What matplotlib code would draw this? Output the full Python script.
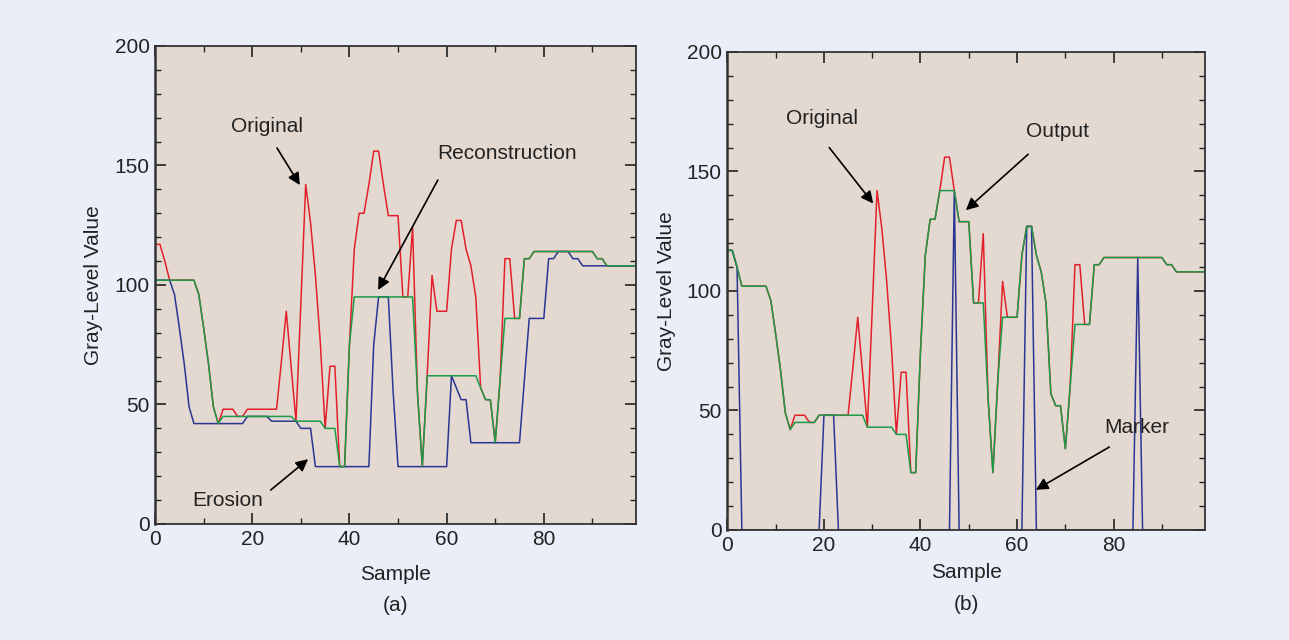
import matplotlib
matplotlib.use("Agg")
import matplotlib.pyplot as plt
from matplotlib.ticker import MultipleLocator

plt.rcParams['font.family'] = ['Liberation Sans', 'DejaVu Sans']

# sample index
samples = list(range(100))

# original gray-level signal (red)
original = [117, 117, 110, 102, 102, 102, 102, 102, 102, 96,
            82, 67, 49, 42, 48, 48, 48, 45, 45, 48,
            48, 48, 48, 48, 48, 48, 68, 89, 66, 43,
            92, 142, 126, 104, 76, 40, 66, 66, 24, 24,
            75, 115, 130, 130, 142, 156, 156, 142, 129, 129,
            129, 95, 95, 124, 55, 24, 62, 104, 89, 89,
            89, 115, 127, 127, 115, 108, 95, 57, 52, 52,
            34, 60, 111, 111, 86, 86, 111, 111, 114, 114,
            114, 114, 114, 114, 114, 114, 114, 114, 114, 114,
            114, 111, 111, 108, 108, 108, 108, 108, 108, 108]

# panel (a): erosion (blue)
erosion = [102, 102, 102, 102, 96, 82, 67, 49, 42, 42,
           42, 42, 42, 42, 42, 42, 42, 42, 42, 45,
           45, 45, 45, 45, 43, 43, 43, 43, 43, 43,
           40, 40, 40, 24, 24, 24, 24, 24, 24, 24,
           24, 24, 24, 24, 24, 75, 95, 95, 95, 55,
           24, 24, 24, 24, 24, 24, 24, 24, 24, 24,
           24, 62, 57, 52, 52, 34, 34, 34, 34, 34,
           34, 34, 34, 34, 34, 34, 60, 86, 86, 86,
           86, 111, 111, 114, 114, 114, 111, 111, 108, 108,
           108, 108, 108, 108, 108, 108, 108, 108, 108, 108]

# panel (a): reconstruction (green)
reconstruction = [102, 102, 102, 102, 102, 102, 102, 102, 102, 96,
                  82, 67, 49, 42, 45, 45, 45, 45, 45, 45,
                  45, 45, 45, 45, 45, 45, 45, 45, 45, 43,
                  43, 43, 43, 43, 43, 40, 40, 40, 24, 24,
                  75, 95, 95, 95, 95, 95, 95, 95, 95, 95,
                  95, 95, 95, 95, 55, 24, 62, 62, 62, 62,
                  62, 62, 62, 62, 62, 62, 62, 57, 52, 52,
                  34, 60, 86, 86, 86, 86, 111, 111, 114, 114,
                  114, 114, 114, 114, 114, 114, 114, 114, 114, 114,
                  114, 111, 111, 108, 108, 108, 108, 108, 108, 108]

# panel (b): marker (blue)
marker = [117, 117, 110, 0, 0, 0, 0, 0, 0, 0,
          0, 0, 0, 0, 0, 0, 0, 0, 0, 0,
          48, 48, 48, 0, 0, 0, 0, 0, 0, 0,
          0, 0, 0, 0, 0, 0, 0, 0, 0, 0,
          0, 0, 0, 0, 0, 0, 0, 142, 0, 0,
          0, 0, 0, 0, 0, 0, 0, 0, 0, 0,
          0, 0, 127, 127, 0, 0, 0, 0, 0, 0,
          0, 0, 0, 0, 0, 0, 0, 0, 0, 0,
          0, 0, 0, 0, 0, 114, 0, 0, 0, 0,
          0, 0, 0, 0, 0, 0, 0, 0, 0, 0]

# panel (b): output (green)
output = [117, 117, 110, 102, 102, 102, 102, 102, 102, 96,
          82, 67, 49, 42, 45, 45, 45, 45, 45, 48,
          48, 48, 48, 48, 48, 48, 48, 48, 48, 43,
          43, 43, 43, 43, 43, 40, 40, 40, 24, 24,
          75, 115, 130, 130, 142, 142, 142, 142, 129, 129,
          129, 95, 95, 95, 55, 24, 62, 89, 89, 89,
          89, 115, 127, 127, 115, 108, 95, 57, 52, 52,
          34, 60, 86, 86, 86, 86, 111, 111, 114, 114,
          114, 114, 114, 114, 114, 114, 114, 114, 114, 114,
          114, 111, 111, 108, 108, 108, 108, 108, 108, 108]

RED = '#e3202a'
BLUE = '#2a3592'
GREEN = '#1c9a48'
BG = '#e9eef8'
FACE = '#e4d9d1'
TXT = '#222222'
FS = 15


def style_axes(ax, xpad):
    ax.set_facecolor(FACE)
    ax.set_xlim(0, 99)
    ax.set_ylim(0, 200)
    ax.xaxis.set_major_locator(MultipleLocator(20))
    ax.xaxis.set_minor_locator(MultipleLocator(10))
    ax.yaxis.set_major_locator(MultipleLocator(50))
    ax.yaxis.set_minor_locator(MultipleLocator(10))
    ax.tick_params(which='both', direction='in', top=True, right=True,
                   labelsize=FS, labelcolor=TXT, color='#222222')
    ax.tick_params(which='major', length=8, width=1.2, pad=4)
    ax.tick_params(which='minor', length=4, width=1.0)
    for s in ax.spines.values():
        s.set_color('#333333')
        s.set_linewidth(1.3)
    ax.spines['left'].set_linewidth(1.8)
    ax.set_xlabel('Sample', fontsize=FS, color=TXT, labelpad=xpad)
    ax.set_ylabel('Gray-Level Value', fontsize=FS, color=TXT, labelpad=8)


def label_arrow(ax, text, text_xy, start, tip):
    ax.text(text_xy[0], text_xy[1], text, fontsize=FS, color=TXT,
            ha='center', va='center')
    ax.annotate('', xy=tip, xytext=start,
                arrowprops=dict(arrowstyle='-|>', color='black', lw=1.2,
                                mutation_scale=18, shrinkA=0, shrinkB=0))


fig = plt.figure(figsize=(12.89, 6.4), dpi=100)
fig.patch.set_facecolor(BG)

ax1 = fig.add_axes([0.1203, 0.1813, 0.3732, 0.7469])
ax2 = fig.add_axes([0.5643, 0.1719, 0.3708, 0.7469])

# panel (a)
ax1.plot(samples, original, color=RED, lw=1.1)
ax1.plot(samples, erosion, color=BLUE, lw=1.1)
ax1.plot(samples, reconstruction, color=GREEN, lw=1.1)
style_axes(ax1, 12)
label_arrow(ax1, 'Original', (23, 166.5), (25.1, 157.3), (29.8, 141.8))
label_arrow(ax1, 'Reconstruction', (72.4, 154.8), (58.2, 143.9), (45.9, 97.9))
label_arrow(ax1, 'Erosion', (15.0, 10.0), (23.8, 14.2), (31.5, 27.1))
ax1.text(0.5, -0.17, '(a)', transform=ax1.transAxes, fontsize=FS,
         color=TXT, ha='center', va='center')

# panel (b)
ax2.plot(samples, original, color=RED, lw=1.1)
ax2.plot(samples, marker, color=BLUE, lw=1.1)
ax2.plot(samples, output, color=GREEN, lw=1.1)
style_axes(ax2, 6)
label_arrow(ax2, 'Original', (19.7, 172.2), (21.1, 160.0), (30.2, 136.6))
label_arrow(ax2, 'Output', (68.4, 166.8), (62.3, 157.2), (49.4, 133.8))
label_arrow(ax2, 'Marker', (84.8, 42.7), (79.1, 34.7), (63.9, 16.8))
ax2.text(0.5, -0.155, '(b)', transform=ax2.transAxes, fontsize=FS,
         color=TXT, ha='center', va='center')

fig.savefig('out.png', dpi=100, facecolor=BG)
